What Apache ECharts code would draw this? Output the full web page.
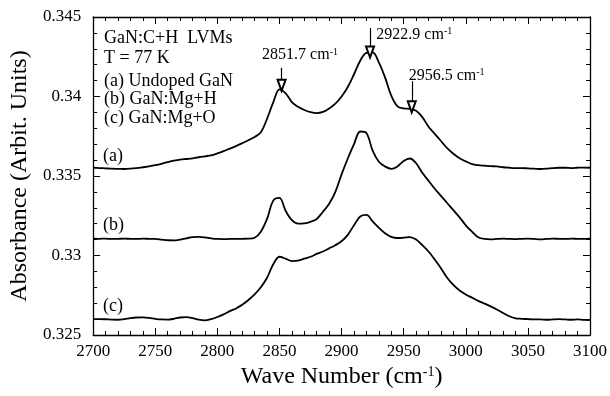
<!DOCTYPE html>
<html>
<head>
<meta charset="utf-8">
<script src="https://cdn.jsdelivr.net/npm/echarts@6/dist/echarts.min.js"></script>
<style>
    html, body { margin: 0; padding: 0; background: #fff; }
    #chart1 { width: 610px; height: 396px; }
</style>
</head>
<body>
<div id="chart1"></div>
<script>
// wave numbers (cm-1)
var waves = [2700, 2705, 2710, 2715, 2720, 2725, 2730, 2735, 2740, 2745,
    2750, 2755, 2760, 2765, 2770, 2775, 2780, 2785, 2790, 2795,
    2800, 2805, 2810, 2815, 2820, 2825, 2830, 2835, 2840, 2845,
    2850, 2855, 2860, 2865, 2870, 2875, 2880, 2885, 2890, 2895,
    2900, 2905, 2910, 2915, 2920, 2925, 2930, 2935, 2940, 2945,
    2950, 2955, 2960, 2965, 2970, 2975, 2980, 2985, 2990, 2995,
    3000, 3005, 3010, 3015, 3020, 3025, 3030, 3035, 3040, 3045,
    3050, 3055, 3060, 3065, 3070, 3075, 3080, 3085, 3090, 3095, 3100];

// (a) Undoped GaN
var curveA = [0.33552, 0.33550, 0.33548, 0.33546, 0.33545, 0.33544, 0.33546, 0.33550, 0.33555, 0.33560,
    0.33568, 0.33577, 0.33587, 0.33596, 0.33603, 0.33607, 0.33611, 0.33618, 0.33624, 0.33630,
    0.33642, 0.33656, 0.33672, 0.33688, 0.33706, 0.33725, 0.33745, 0.33775, 0.33860, 0.33963,
    0.34045, 0.34020, 0.33965, 0.33935, 0.33915, 0.33902, 0.33896, 0.33903, 0.33925, 0.33955,
    0.34000, 0.34060, 0.34140, 0.34225, 0.34275, 0.34278, 0.34215, 0.34120, 0.34005, 0.33938,
    0.33925, 0.33922, 0.33910, 0.33870, 0.33810, 0.33765, 0.33720, 0.33675, 0.33640, 0.33612,
    0.33592, 0.33575, 0.33568, 0.33565, 0.33562, 0.33560, 0.33555, 0.33552, 0.33550, 0.33550,
    0.33548, 0.33546, 0.33544, 0.33546, 0.33550, 0.33552, 0.33552, 0.33550, 0.33552, 0.33553, 0.33552];

// (b) GaN:Mg+H
var curveB = [0.33106, 0.33105, 0.33106, 0.33104, 0.33105, 0.33106, 0.33105, 0.33104, 0.33106, 0.33105,
    0.33104, 0.33100, 0.33096, 0.33095, 0.33100, 0.33108, 0.33115, 0.33117, 0.33114, 0.33108,
    0.33104, 0.33103, 0.33104, 0.33104, 0.33105, 0.33106, 0.33112, 0.33150, 0.33230, 0.33345,
    0.33362, 0.33280, 0.33222, 0.33200, 0.33202, 0.33212, 0.33230, 0.33275, 0.33325, 0.33400,
    0.33510, 0.33610, 0.33700, 0.33780, 0.33770, 0.33660, 0.33590, 0.33560, 0.33545, 0.33560,
    0.33595, 0.33610, 0.33580, 0.33520, 0.33470, 0.33420, 0.33375, 0.33330, 0.33285, 0.33240,
    0.33190, 0.33150, 0.33115, 0.33104, 0.33102, 0.33104, 0.33106, 0.33104, 0.33103, 0.33105,
    0.33106, 0.33104, 0.33102, 0.33104, 0.33106, 0.33105, 0.33104, 0.33106, 0.33105, 0.33104, 0.33106];

// (c) GaN:Mg+O
var curveC = [0.32600, 0.32600, 0.32599, 0.32597, 0.32596, 0.32600, 0.32606, 0.32610, 0.32611, 0.32608,
    0.32602, 0.32598, 0.32597, 0.32602, 0.32610, 0.32612, 0.32606, 0.32596, 0.32592, 0.32600,
    0.32613, 0.32630, 0.32650, 0.32667, 0.32690, 0.32720, 0.32755, 0.32800, 0.32860, 0.32945,
    0.32992, 0.32980, 0.32965, 0.32968, 0.32980, 0.32992, 0.33010, 0.33025, 0.33045, 0.33065,
    0.33090, 0.33130, 0.33190, 0.33245, 0.33255, 0.33215, 0.33175, 0.33140, 0.33117, 0.33110,
    0.33112, 0.33115, 0.33100, 0.33065, 0.33025, 0.32975, 0.32920, 0.32860, 0.32815, 0.32780,
    0.32755, 0.32735, 0.32715, 0.32698, 0.32680, 0.32660, 0.32638, 0.32618, 0.32605, 0.32602,
    0.32600, 0.32598, 0.32598, 0.32596, 0.32598, 0.32600, 0.32598, 0.32596, 0.32598, 0.32595, 0.32594];

// peak arrows: wave number, arrow top, arrow tip
var peakWaves = [2851.7, 2922.9, 2956.5];
var arrowTop = [0.34181, 0.34431, 0.34096];
var arrowTip = [0.34070, 0.34280, 0.33935];
// peak labels: anchor (wave, value) of the left end of the text
var peakLabelWave = [2836.0, 2928.0, 2954.0];
var peakLabelValue = [0.34260, 0.34390, 0.34131];

var xTicks = { min: 2700, max: 3100, interval: 50 };
var yTicks = { min: 0.325, max: 0.345, interval: 0.005 };

var legendLines = ['GaN:C+H  LVMs', 'T = 77 K', '(a) Undoped GaN', '(b) GaN:Mg+H', '(c) GaN:Mg+O'];
var curveNames = ['(a)', '(b)', '(c)'];

var serif = 'Liberation Serif';

chart1();

function makeAxis(extra) {
    var base = {
        type: 'value',
        axisLine: { show: true, onZero: false, lineStyle: { color: '#000', width: 1.3 } },
        axisTick: { show: true, inside: true, length: 7, lineStyle: { color: '#000', width: 1 } },
        minorTick: { show: true, splitNumber: 5, length: 4, lineStyle: { color: '#000', width: 1 } },
        splitLine: { show: false },
        axisLabel: { show: false }
    };
    for (var k in extra) base[k] = extra[k];
    return base;
}

function pairs(ys) {
    return waves.map(function (w, i) { return [w, ys[i]]; });
}

function chart1() {
    var myChart = echarts.init(document.getElementById('chart1'));

    var arrows = peakWaves.map(function (w, i) {
        return [{ coord: [w, arrowTop[i]] }, { coord: [w, arrowTip[i]] }];
    });
    var labels = peakWaves.map(function (w, i) {
        return { coord: [peakLabelWave[i], peakLabelValue[i]], value: w.toFixed(1) };
    });

    var texts = [];
    var legendTops = [29, 49, 72, 90, 109];
    legendLines.forEach(function (t, i) {
        texts.push({ type: 'text', left: 104, top: legendTops[i],
            style: { text: t, font: '18px "' + serif + '"', fill: '#000' } });
    });
    var curveTops = [147, 216, 297];
    curveNames.forEach(function (t, i) {
        texts.push({ type: 'text', left: 103, top: curveTops[i],
            style: { text: t, font: '18px "' + serif + '"', fill: '#000' } });
    });

    option = {
        backgroundColor: '#fff',
        animation: false,
        grid: { left: 91, right: 20, top: 17, bottom: 61 },
        xAxis: [
            makeAxis({
                min: xTicks.min, max: xTicks.max, interval: xTicks.interval,
                position: 'bottom',
                name: 'Wave Number (cm{s|-1})',
                nameLocation: 'middle',
                nameGap: 28,
                nameTextStyle: {
                    fontFamily: serif, fontSize: 24, color: '#000',
                    rich: { s: { fontFamily: serif, fontSize: 14, verticalAlign: 'top', padding: [0, 0, 10, 0] } }
                },
                axisLabel: {
                    show: true, fontFamily: serif, fontSize: 17, color: '#000', margin: 8,
                    formatter: function (v) { return String(v); }
                }
            }),
            makeAxis({
                min: xTicks.min, max: xTicks.max, interval: xTicks.interval,
                position: 'top'
            })
        ],
        yAxis: [
            makeAxis({
                min: yTicks.min, max: yTicks.max, interval: yTicks.interval,
                position: 'left',
                name: 'Absorbance (Arbit. Units)',
                nameLocation: 'middle',
                nameGap: 57,
                nameTextStyle: { fontFamily: serif, fontSize: 24, color: '#000' },
                axisLabel: { show: true, fontFamily: serif, fontSize: 17, color: '#000', margin: 12 }
            }),
            makeAxis({
                min: yTicks.min, max: yTicks.max, interval: yTicks.interval,
                position: 'right'
            })
        ],
        graphic: texts,
        series: [
            {
                name: '(a)',
                type: 'line',
                data: pairs(curveA),
                showSymbol: false,
                smooth: 0.35,
                lineStyle: { color: '#000', width: 1.8 },
                markLine: {
                    silent: true,
                    animation: false,
                    symbol: ['none', 'emptyTriangle'],
                    symbolSize: [8, 11],
                    lineStyle: { color: '#000', width: 1.2, type: 'solid' },
                    label: { show: false },
                    data: arrows
                },
                markPoint: {
                    silent: true,
                    symbolSize: 0,
                    label: {
                        show: true,
                        position: 'right',
                        distance: 0,
                        formatter: function (p) { return '{n|' + p.value + ' cm}{s|-1}'; },
                        rich: {
                            n: { fontFamily: serif, fontSize: 16, color: '#000' },
                            s: { fontFamily: serif, fontSize: 10, color: '#000', verticalAlign: 'top', padding: [0, 0, 6, 0] }
                        }
                    },
                    data: labels
                }
            },
            {
                name: '(b)',
                type: 'line',
                data: pairs(curveB),
                showSymbol: false,
                smooth: 0.35,
                lineStyle: { color: '#000', width: 1.8 }
            },
            {
                name: '(c)',
                type: 'line',
                data: pairs(curveC),
                showSymbol: false,
                smooth: 0.35,
                lineStyle: { color: '#000', width: 1.8 }
            }
        ]
    };

    myChart.setOption(option);
}
</script>
</body>
</html>
